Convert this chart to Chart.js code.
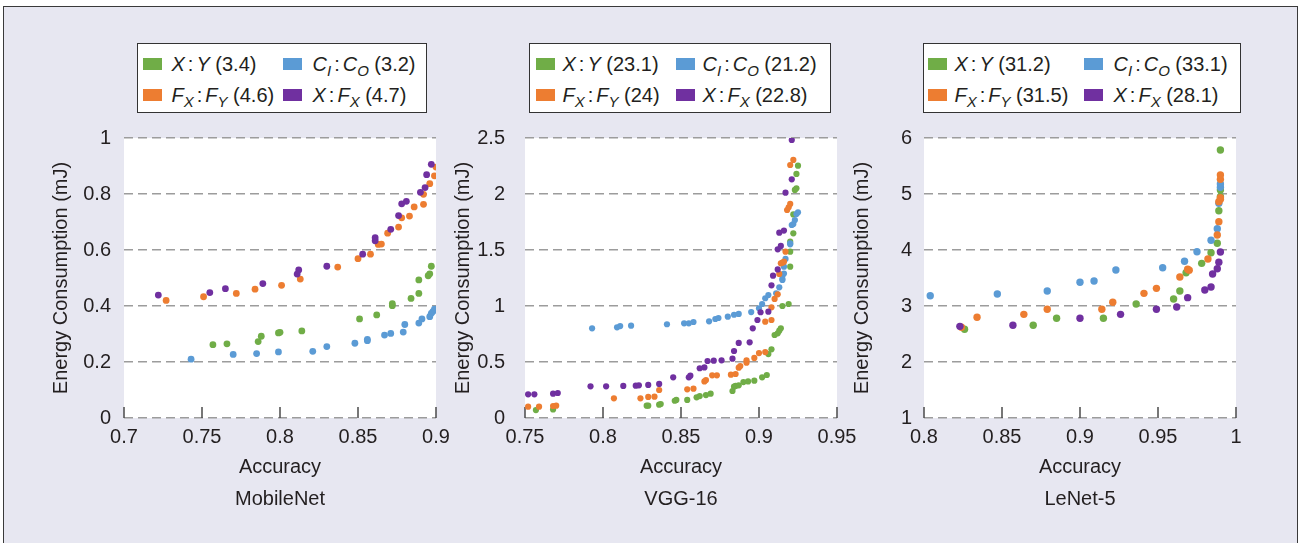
<!DOCTYPE html>
<html><head><meta charset="utf-8">
<script src="https://cdn.jsdelivr.net/npm/chart.js@4.4.1/dist/chart.umd.min.js"></script>
<style>
html,body{margin:0;padding:0;background:#fff;width:1303px;height:543px;overflow:hidden;font-family:'Liberation Sans',Arial,Helvetica,sans-serif;color:#231f20}
#frame{position:absolute;left:3px;top:6px;width:1293px;height:560px;border:1.5px solid #3a3a3a;background:#e7e7f1;}
canvas{position:absolute;top:0}
.legend{position:absolute;top:43px;height:70px;box-sizing:border-box;background:#fff;border:1.5px solid #333;}
.sw{position:absolute;width:19px;height:12px}
.lt{position:absolute;font-size:20px;line-height:24px;white-space:nowrap}
.lt i{font-style:italic}
.lt sub{font-size:15px;vertical-align:baseline;position:relative;top:5px;font-style:italic}
.lt .col{margin:0 3px 0 3px}
</style></head>
<body>
<div id="frame"></div>
<canvas id="c1" width="470" height="543" style="left:0px"></canvas>
<canvas id="c2" width="430" height="543" style="left:440px"></canvas>
<canvas id="c3" width="440" height="543" style="left:840px"></canvas>
<div id="legends"></div>
<script>
// ---------- DATA ----------
const seriesNames = ['<i>X</i><span class="col">:</span><i>Y</i>', '<i>C</i><sub>I</sub><span class="col">:</span><i>C</i><sub>O</sub>', '<i>F</i><sub>X</sub><span class="col">:</span><i>F</i><sub>Y</sub>', '<i>X</i><span class="col">:</span><i>F</i><sub>X</sub>'];
const legendMobileNet = ['3.4', '3.2', '4.6', '4.7'];
const legendVGG = ['23.1', '21.2', '24', '22.8'];
const legendLeNet = ['31.2', '33.1', '31.5', '28.1'];

const yTitle = 'Energy Consumption (mJ)';
const xTitle = 'Accuracy';
const networks = ['MobileNet', 'VGG-16', 'LeNet-5'];

const xTicksMobileNet = ['0.7', '0.75', '0.8', '0.85', '0.9'];
const yTicksMobileNet = ['0', '0.2', '0.4', '0.6', '0.8', '1'];
const xTicksVGG = ['0.75', '0.8', '0.85', '0.9', '0.95'];
const yTicksVGG = ['0', '0.5', '1', '1.5', '2', '2.5'];
const xTicksLeNet = ['0.8', '0.85', '0.9', '0.95', '1'];
const yTicksLeNet = ['1', '2', '3', '4', '5', '6'];

// MobileNet
const mobileXY = [[0.757,0.262],[0.766,0.265],[0.786,0.273],[0.788,0.292],[0.799,0.304],[0.800,0.306],[0.814,0.311],[0.851,0.354],[0.862,0.368],[0.872,0.401],[0.872,0.408],[0.884,0.427],[0.889,0.445],[0.889,0.493],[0.895,0.508],[0.896,0.515],[0.897,0.542]];
const mobileCICO = [[0.743,0.210],[0.770,0.227],[0.785,0.230],[0.799,0.236],[0.821,0.238],[0.830,0.255],[0.848,0.267],[0.856,0.276],[0.856,0.281],[0.867,0.296],[0.871,0.302],[0.879,0.307],[0.880,0.334],[0.889,0.339],[0.891,0.354],[0.896,0.362],[0.897,0.374],[0.898,0.380],[0.899,0.389]];
const mobileFXFY = [[0.727,0.420],[0.751,0.433],[0.772,0.445],[0.784,0.460],[0.801,0.474],[0.813,0.496],[0.837,0.539],[0.850,0.569],[0.858,0.585],[0.863,0.620],[0.865,0.621],[0.869,0.660],[0.876,0.682],[0.878,0.715],[0.883,0.721],[0.886,0.754],[0.892,0.763],[0.892,0.799],[0.896,0.837],[0.899,0.865],[0.900,0.896]];
const mobileXFX = [[0.722,0.439],[0.755,0.448],[0.765,0.462],[0.789,0.480],[0.811,0.514],[0.812,0.529],[0.830,0.542],[0.853,0.585],[0.861,0.633],[0.861,0.644],[0.871,0.674],[0.876,0.723],[0.878,0.765],[0.881,0.774],[0.890,0.806],[0.893,0.823],[0.894,0.869],[0.897,0.906]];

// VGG-16
const vggXY = [[0.757,0.071],[0.768,0.077],[0.828,0.110],[0.829,0.110],[0.836,0.119],[0.837,0.125],[0.846,0.154],[0.847,0.161],[0.854,0.161],[0.860,0.185],[0.862,0.196],[0.866,0.205],[0.869,0.217],[0.883,0.241],[0.884,0.280],[0.885,0.286],[0.887,0.292],[0.890,0.321],[0.893,0.327],[0.897,0.333],[0.902,0.363],[0.905,0.384],[0.906,0.571],[0.908,0.613],[0.910,0.741],[0.912,0.756],[0.913,0.780],[0.914,0.801],[0.915,1.000],[0.919,1.018],[0.920,1.351],[0.920,1.485],[0.920,1.574],[0.922,1.649],[0.922,1.818],[0.923,2.036],[0.924,2.051],[0.924,2.179],[0.925,2.253]];
const vggCICO = [[0.793,0.801],[0.809,0.810],[0.811,0.821],[0.818,0.824],[0.841,0.837],[0.852,0.845],[0.855,0.845],[0.858,0.857],[0.868,0.863],[0.872,0.884],[0.874,0.893],[0.880,0.905],[0.884,0.922],[0.887,0.929],[0.895,0.946],[0.900,0.980],[0.902,1.018],[0.904,1.069],[0.906,1.098],[0.911,1.113],[0.913,1.167],[0.915,1.232],[0.915,1.241],[0.915,1.270],[0.916,1.290],[0.916,1.351],[0.917,1.420],[0.920,1.551],[0.920,1.560],[0.921,1.723],[0.922,1.732],[0.923,1.768],[0.924,1.821],[0.925,1.836]];
const vggFXFY = [[0.752,0.101],[0.759,0.101],[0.768,0.107],[0.770,0.110],[0.807,0.176],[0.824,0.176],[0.829,0.188],[0.833,0.190],[0.836,0.250],[0.854,0.256],[0.858,0.262],[0.865,0.327],[0.866,0.339],[0.870,0.381],[0.873,0.381],[0.882,0.387],[0.885,0.393],[0.887,0.449],[0.888,0.464],[0.892,0.494],[0.892,0.515],[0.897,0.536],[0.900,0.580],[0.904,0.589],[0.904,0.860],[0.908,0.875],[0.908,0.988],[0.910,1.063],[0.912,1.104],[0.913,1.286],[0.914,1.381],[0.915,1.387],[0.916,1.396],[0.917,1.485],[0.918,1.857],[0.919,1.881],[0.920,1.911],[0.920,2.259],[0.922,2.304]];
const vggXFX = [[0.752,0.211],[0.756,0.211],[0.768,0.217],[0.771,0.223],[0.792,0.283],[0.802,0.283],[0.813,0.286],[0.821,0.289],[0.823,0.292],[0.829,0.295],[0.836,0.304],[0.845,0.363],[0.855,0.363],[0.856,0.378],[0.862,0.444],[0.865,0.452],[0.867,0.509],[0.871,0.512],[0.876,0.515],[0.883,0.530],[0.884,0.598],[0.887,0.670],[0.894,0.676],[0.896,0.801],[0.899,0.875],[0.901,0.944],[0.906,0.949],[0.908,1.185],[0.909,1.271],[0.912,1.327],[0.912,1.506],[0.914,1.536],[0.913,1.655],[0.916,1.673],[0.917,2.012],[0.921,2.131],[0.921,2.482]];

// LeNet-5
const lenetXY = [[0.826,2.584],[0.870,2.655],[0.885,2.780],[0.915,2.780],[0.936,3.036],[0.960,3.125],[0.964,3.268],[0.968,3.595],[0.978,3.762],[0.984,3.952],[0.988,4.120],[0.989,4.702],[0.990,4.952],[0.990,5.071],[0.990,5.786]];
const lenetCICO = [[0.804,3.184],[0.847,3.214],[0.879,3.268],[0.900,3.423],[0.909,3.446],[0.923,3.643],[0.953,3.684],[0.967,3.798],[0.975,3.970],[0.984,4.173],[0.988,4.380],[0.989,4.834],[0.990,5.120],[0.990,5.179]];
const lenetFXFY = [[0.824,2.620],[0.834,2.798],[0.864,2.851],[0.879,2.941],[0.914,2.941],[0.921,3.066],[0.941,3.226],[0.949,3.315],[0.964,3.518],[0.969,3.655],[0.970,3.640],[0.982,3.839],[0.988,4.268],[0.989,4.506],[0.989,4.863],[0.990,4.905],[0.990,4.934],[0.990,5.262],[0.990,5.339]];
const lenetXFX = [[0.823,2.637],[0.857,2.655],[0.900,2.780],[0.926,2.851],[0.949,2.941],[0.962,2.982],[0.969,3.149],[0.980,3.286],[0.984,3.339],[0.985,3.571],[0.988,3.666],[0.989,3.780],[0.990,3.964]];

// ---------- STYLE ----------
const GREEN = '#70ad47', BLUE = '#5b9bd5', ORANGE = '#ed7d31', PURPLE = '#7030a0';
const COLORS = [GREEN, BLUE, ORANGE, PURPLE];
const TXT = '#231f20';
Chart.defaults.font.family = "'Liberation Sans', Arial, Helvetica, sans-serif";
Chart.defaults.font.size = 20;
Chart.defaults.color = TXT;

const toPts = arr => arr.map(p => ({x: p[0], y: p[1]}));

const areaPlugin = {
  id: 'area',
  beforeDraw(chart) {
    const {ctx, chartArea: a} = chart;
    ctx.save(); ctx.fillStyle = '#fff';
    ctx.fillRect(a.left, a.top, a.right - a.left, a.bottom - a.top);
    ctx.restore();
  },
  beforeDatasetsDraw(chart) {
    const {ctx, chartArea: a} = chart; const xs = chart.scales.x;
    ctx.save(); ctx.strokeStyle = '#4a4a4a'; ctx.lineWidth = 1.5;
    xs.ticks.forEach(t => {
      const px = xs.getPixelForValue(t.value);
      ctx.beginPath(); ctx.moveTo(px, a.bottom); ctx.lineTo(px, a.bottom - 11); ctx.stroke();
    });
    ctx.restore();
  }
};

function makeChart(id, o) {
  return new Chart(document.getElementById(id), {
    type: 'scatter',
    data: { datasets: [
      {label: 'X:F_X', data: toPts(o.series[3]), backgroundColor: PURPLE, order: 0},
      {label: 'F_X:F_Y', data: toPts(o.series[2]), backgroundColor: ORANGE, order: 1},
      {label: 'C_I:C_O', data: toPts(o.series[1]), backgroundColor: BLUE, order: 2},
      {label: 'X:Y', data: toPts(o.series[0]), backgroundColor: GREEN, order: 3}
    ]},
    options: {
      responsive: false, animation: false, devicePixelRatio: 1,
      layout: {padding: {left: 0, right: o.padRight, top: 138, bottom: 24}},
      elements: {point: {radius: o.r, hoverRadius: o.r, borderWidth: 0, pointStyle: 'circle'}},
      plugins: {
        legend: {display: false}, tooltip: {enabled: false},
        title: {display: true, position: 'bottom', fullSize: false, text: o.name, color: TXT,
                font: {size: 20, weight: 'normal'}, padding: {top: 8, bottom: 8}}
      },
      scales: {
        x: {
          type: 'linear', min: Number(o.xTicks[0]), max: Number(o.xTicks[o.xTicks.length - 1]),
          afterBuildTicks: s => { s.ticks = o.xTicks.map(v => ({value: Number(v)})); },
          afterFit: s => { s.height = 61; },
          ticks: {callback: (v, i) => o.xTicks[i], padding: 7, maxRotation: 0, autoSkip: false, color: TXT, font: {size: 20}},
          grid: {display: false, drawTicks: false},
          border: {display: false},
          title: {display: true, text: xTitle, color: TXT, font: {size: 20}, padding: 0}
        },
        y: {
          type: 'linear', min: Number(o.yTicks[0]), max: Number(o.yTicks[o.yTicks.length - 1]),
          afterBuildTicks: s => { s.ticks = o.yTicks.map(v => ({value: Number(v)})); },
          afterFit: s => { s.width = o.yWidth; },
          ticks: {callback: (v, i) => o.yTicks[i], padding: o.yPad, color: TXT, font: {size: 20}},
          grid: {color: '#9c9c9c', lineWidth: 1.5, drawTicks: false},
          border: {display: false, dash: [9, 5]},
          title: {display: true, text: yTitle, color: TXT, font: {size: 20}, padding: {top: o.yTitlePad, bottom: 0}}
        }
      }
    },
    plugins: [areaPlugin]
  });
}

makeChart('c1', {name: networks[0], series: [mobileXY, mobileCICO, mobileFXFY, mobileXFX], xTicks: xTicksMobileNet, yTicks: yTicksMobileNet, yWidth: 124, padRight: 34, yPad: 13, yTitlePad: 49, r: 3.4});
makeChart('c2', {name: networks[1], series: [vggXY, vggCICO, vggFXFY, vggXFX], xTicks: xTicksVGG, yTicks: yTicksVGG, yWidth: 85, padRight: 33, yPad: 20, yTitlePad: 11, r: 3.1});
makeChart('c3', {name: networks[2], series: [lenetXY, lenetCICO, lenetFXFY, lenetXFX], xTicks: xTicksLeNet, yTicks: yTicksLeNet, yWidth: 84, padRight: 44, yPad: 12, yTitlePad: 10, r: 3.7});

// ---------- HTML LEGENDS ----------
const legendBoxes = [
  {left: 137, right: 427, vals: legendMobileNet, sq: [143, 283], tx: [172, 313]},
  {left: 529, right: 831, vals: legendVGG, sq: [536, 676], tx: [563, 703]},
  {left: 923, right: 1241, vals: legendLeNet, sq: [928, 1084], tx: [955, 1114]}
];
const order = [[0, 1], [2, 3]]; // rows: [X:Y, CI:CO], [FX:FY, X:FX]
const host = document.getElementById('legends');
legendBoxes.forEach(b => {
  const box = document.createElement('div');
  box.className = 'legend';
  box.style.left = b.left + 'px'; box.style.width = (b.right - b.left) + 'px';
  order.forEach((row, r) => {
    row.forEach((si, c) => {
      const sw = document.createElement('div');
      sw.className = 'sw'; sw.style.background = COLORS[si];
      sw.style.left = (b.sq[c] - b.left - 1.5) + 'px'; sw.style.top = (r === 0 ? 13.5 : 44.5) + 'px';
      const t = document.createElement('div');
      t.className = 'lt';
      t.style.left = (b.tx[c] - b.left - 1.5) + 'px'; t.style.top = (r === 0 ? 7.5 : 38.5) + 'px';
      t.innerHTML = seriesNames[si] + ' (' + b.vals[si] + ')';
      box.appendChild(sw); box.appendChild(t);
    });
  });
  host.appendChild(box);
});
</script>
</body></html>
